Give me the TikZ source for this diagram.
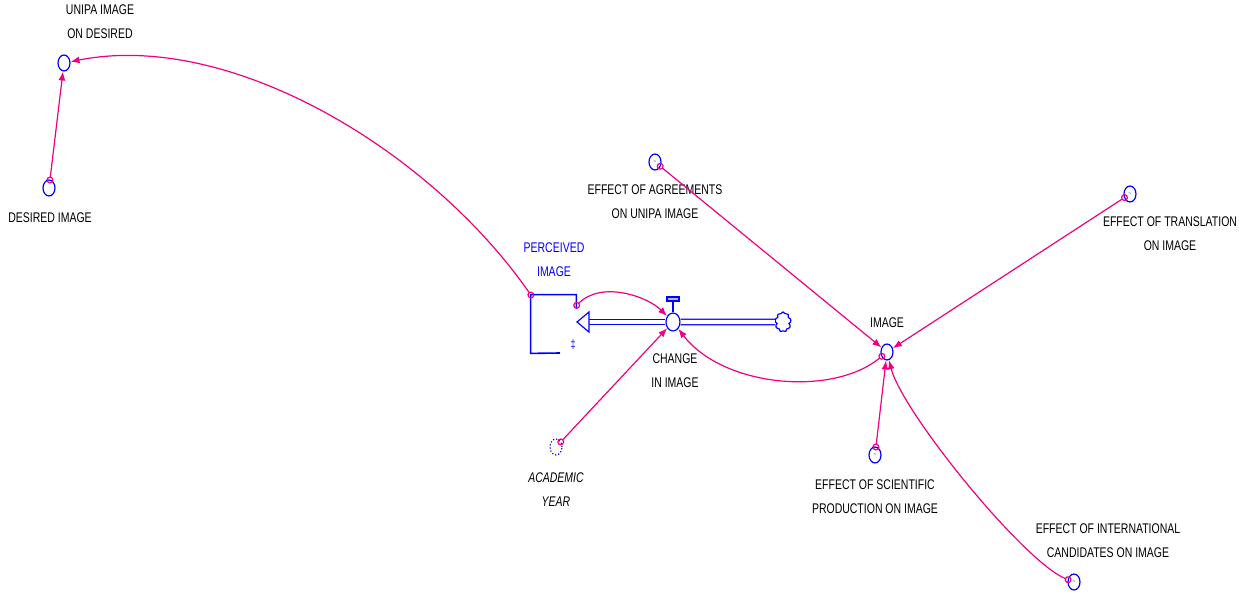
\documentclass[tikz,border=0pt]{standalone}
\usepackage{fontspec}
\setmainfont{Liberation Sans}[FakeStretch=0.75]
\usetikzlibrary{arrows.meta,shapes.geometric,shapes.symbols}

\definecolor{linkpink}{RGB}{240,0,128}
\definecolor{sdblue}{RGB}{0,0,255}

\tikzset{
  aux/.style={ellipse, draw=sdblue, line width=0.6pt, minimum width=6pt, minimum height=8pt, inner sep=0pt},
  lookup/.style={aux, label={[font=\fontsize{3}{3}\selectfont, inner sep=0pt]center:\textasciitilde}},
  lbl/.style={align=center, font=\fontsize{7}{12}\selectfont},
  link/.style={draw=linkpink, line width=0.6pt, shorten <=-2pt, {Circle[open,length=3.5pt,width=3.5pt]}-{Latex[length=4.5pt,width=3.5pt]}},
  pipe/.style={draw=sdblue, line width=0.6pt, double=white, double distance=2.2pt},
}

\begin{document}
\begin{tikzpicture}[x=0.5pt,y=-0.5pt]
    \useasboundingbox (0,0) rectangle (1239,594);

    \node[aux] (unipa) at (64,63) {};
    \node[lbl] (unipa-lbl) at (100,22) {UNIPA IMAGE\\ON DESIRED};
    \node[aux] (desired) at (49,188) {};
    \node[lbl] (desired-lbl) at (50,218) {DESIRED IMAGE};

    \node[inner sep=0pt, minimum width=22.5pt, minimum height=29pt] (stock) at (553.5,324) {};
    \node[lbl, text=sdblue] (stock-lbl) at (554,260) {PERCEIVED\\IMAGE};
    \coordinate (stock-out) at (577,305);

    \node[ellipse, draw=sdblue, line width=0.6pt, minimum width=7pt, minimum height=9pt, inner sep=0pt] (valve) at (673,322) {};
    \node[lbl] (valve-lbl) at (675,371) {CHANGE\\IN IMAGE};
    \node[cloud, draw=sdblue, line width=0.6pt, cloud puffs=9, aspect=0.8, minimum width=8pt, minimum height=10pt, inner sep=0pt] (sink) at (783,322) {};

    \node[aux, densely dotted] (year) at (556,447) {};
    \node[lbl, font=\fontsize{7}{12}\selectfont\itshape] (year-lbl) at (556,490) {ACADEMIC\\YEAR};

    \node[aux] (image) at (887,352) {};
    \node[lbl] (image-lbl) at (887,323) {IMAGE};

    \node[lookup] (agree) at (655,162) {};
    \node[lbl] (agree-lbl) at (655,202) {EFFECT OF AGREEMENTS\\ON UNIPA IMAGE};
    \node[lookup] (transl) at (1130,194) {};
    \node[lbl] (transl-lbl) at (1170,234) {EFFECT OF TRANSLATION\\ON IMAGE};
    \node[lookup] (scient) at (875,455) {};
    \node[lbl] (scient-lbl) at (875,497) {EFFECT OF SCIENTIFIC\\PRODUCTION ON IMAGE};
    \node[lookup] (intern) at (1074,582) {};
    \node[lbl] (intern-lbl) at (1108,541) {EFFECT OF INTERNATIONAL\\CANDIDATES ON IMAGE};

    % stock outline, open on the inflow side
    \draw[sdblue, line width=0.8pt] (560,353) -- (stock.south west) -- (stock.north west) -- (stock.north east) -- ++(0,14);
    \node[text=sdblue, font=\fontsize{6}{6}\selectfont, inner sep=0pt] (stock-mark) at (573,345) {‡};

    % flow pipe and valve
    \draw[pipe] (sink.west) -- (valve.east);
    \draw[pipe] (valve.west) -- (589,322);
    \draw[sdblue, fill=white, line width=0.6pt] (577,322) -- (589,312) -- (589,332) -- cycle;
    \draw[sdblue, line width=0.8pt] (valve.north) -- ++(0,-10);
    \draw[sdblue, line width=0.6pt, fill=sdblue!30] (667,297) rectangle (679,301);

    % connectors
    \draw[link] (desired) -- (unipa);
    \draw[link] (stock.north west) .. controls (430,150) and (230,30) .. (unipa);
    \draw[link] (stock-out) .. controls +(25,-25) and +(-25,-25) .. (valve);
    \draw[link] (year) -- (valve);
    \draw[link] (image) .. controls +(-55,45) and +(50,65) .. (valve);
    \draw[link] (agree) -- (image);
    \draw[link] (transl) -- (image);
    \draw[link] (scient) -- (image);
    \draw[link] (intern) .. controls +(-50,-20) and +(15,60) .. (image);
\end{tikzpicture}
\end{document}
